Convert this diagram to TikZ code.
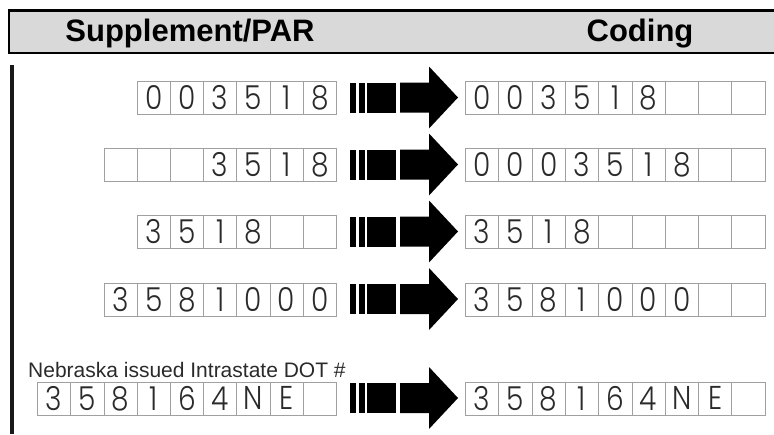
\documentclass[tikz,border=0pt]{standalone}
\usepackage{fontspec}
\setmainfont{Liberation Sans}
\newfontfamily\digfont{Poppins Light}[FakeStretch=0.85]
\definecolor{boxgray}{HTML}{A0A0A0}
\definecolor{digit}{HTML}{2A2A2A}
\definecolor{headfill}{HTML}{D9D9D9}
\newcommand{\cellrow}[5]{% name, x0, ytop, width, list
  \foreach \digit [count=\i] in {#5} {
    \node[cell, minimum width=#4] (#1-\i) at ({#2+(\i-1)*#4}, #3) {\digit};
  }%
}
\newcommand{\blockarrow}[2]{% name, y centre
  \coordinate (#1) at (400,#2);
  \fill[black] (350,#2-15) rectangle (356,#2+15);
  \fill[black] (358.5,#2-15) rectangle (364.5,#2+15);
  \fill[black] (367,#2-15) rectangle (396,#2+15);
  \fill[black] (400,#2-15) -- (429,#2-15) -- (429,#2-31) -- (458,#2) -- (429,#2+31) -- (429,#2+15) -- (400,#2+15) -- cycle;
}
\begin{document}
\begin{tikzpicture}[x=1pt,y=-1pt,
  cell/.style={draw=boxgray, line width=0.8pt, minimum height=33pt, inner sep=0pt,
    anchor=north west, text=digit, font=\digfont\fontsize{33}{33}\selectfont},
  headtext/.style={font=\bfseries\fontsize{31}{31}\selectfont, text=black, anchor=base}]
\useasboundingbox (0,0) rectangle (774,434);
% header band
\fill[headfill] (9,10.5) rectangle (774,53);
\draw[line width=2.5pt] (774,10.5) -- (9,10.5) -- (9,53) -- (774,53);
\node[headtext] (hleft) at (190,41.5) {Supplement/PAR};
\node[headtext] (hright) at (640,41.5) {Coding};
% left rule
\fill[black!90] (10,65) rectangle (14,434);
% left (supplement) rows
\cellrow{L1}{136.8}{81}{33.2pt}{0,0,3,5,1,8}
\cellrow{L2}{103.6}{148}{33.2pt}{{},{},{},3,5,1,8}
\cellrow{L3}{136.8}{215}{33.2pt}{3,5,1,8,{},{}}
\cellrow{L4}{103.6}{282.5}{33.2pt}{3,5,8,1,0,0,0}
\cellrow{L5}{37.2}{381.5}{33.2pt}{3,5,8,1,6,4,N,E,{}}
% right (coding) rows
\cellrow{R1}{465}{81}{33.3pt}{0,0,3,5,1,8,{},{},{}}
\cellrow{R2}{465}{148}{33.3pt}{0,0,0,3,5,1,8,{},{}}
\cellrow{R3}{465}{215}{33.3pt}{3,5,1,8,{},{},{},{},{}}
\cellrow{R4}{465}{282.5}{33.3pt}{3,5,8,1,0,0,0,{},{}}
\cellrow{R5}{465}{381.5}{33.3pt}{3,5,8,1,6,4,N,E,{}}
% arrows
\blockarrow{A1}{97.5}
\blockarrow{A2}{164.5}
\blockarrow{A3}{231.5}
\blockarrow{A4}{299}
\blockarrow{A5}{398}
% label
\node[anchor=base west, inner sep=0pt, text=digit, font=\fontsize{21}{21}\selectfont] (neb) at (28,377) {Nebraska issued Intrastate DOT \#};
\end{tikzpicture}
\end{document}
